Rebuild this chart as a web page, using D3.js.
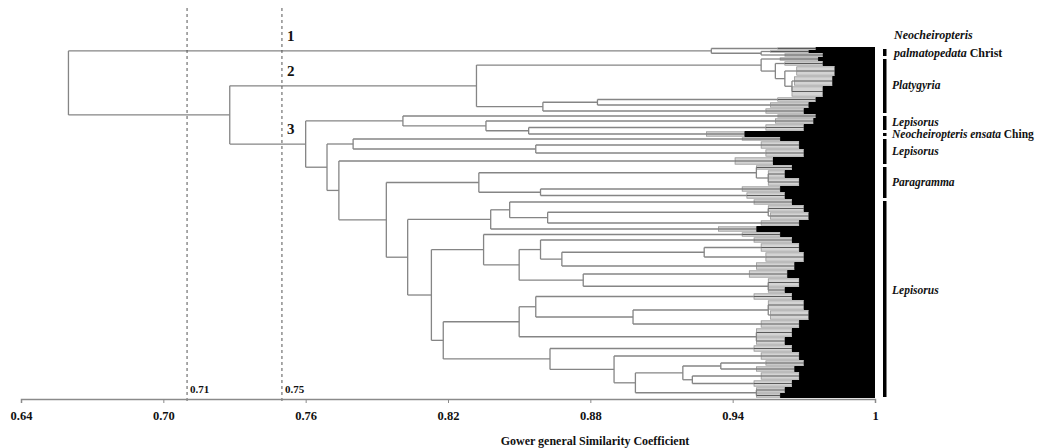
<!DOCTYPE html>
<html>
<head>
<meta charset="utf-8">
<script src="https://cdn.jsdelivr.net/npm/d3@7"></script>
<style>
  body { margin: 0; background: #fff; }
  svg text { font-family: "Liberation Serif", "Times New Roman", serif; font-weight: bold; fill: #111; }
</style>
</head>
<body>
<div id="chart"></div>
<script>
var svgWidth = 1048;
var svgHeight = 448;

// terminal clusters, top to bottom: id, number of OTUs, similarity where the black mass starts
var leafIds = ["a1","a2","a3",
  "b1","b2","b3","b4","b5","b6","b7","b8",
  "c1","c2","c3","c4",
  "d1","d2","d3","d4",
  "e1","e2","e3","e4","e5",
  "f1","f2","f3","f4","f5",
  "g1","g2","g3","g4","g5","g6","g7","g8",
  "h1","h2","h3","h4","h5","h6",
  "i1","i2","i3","i4","i5","i6","i7","i8"];
var leafCount = [3,3,4,
  4,5,10,10,11,5,6,6,
  4,6,7,6,
  4,8,8,8,
  5,8,8,6,7,
  6,7,8,6,6,
  5,6,9,10,8,8,9,6,
  7,10,10,8,9,8,
  7,8,6,6,8,7,6,5];
var leafCore = [0.975,0.972,0.978,
  0.976,0.978,0.983,0.982,0.978,0.975,0.972,0.970,
  0.975,0.974,0.970,0.945,
  0.960,0.968,0.970,0.957,
  0.965,0.962,0.968,0.960,0.962,
  0.965,0.970,0.972,0.968,0.950,
  0.960,0.965,0.968,0.970,0.966,0.963,0.968,0.962,
  0.965,0.970,0.972,0.968,0.965,0.962,
  0.965,0.968,0.970,0.966,0.968,0.965,0.962,0.960];

// merges: node, similarity, child, child
var merges = [
  ["n_a23",0.952,"a2","a3"],
  ["n_c1",0.931,"a1","n_a23"],
  ["n_b45",0.965,"b4","b5"],
  ["n_b345",0.962,"b3","n_b45"],
  ["n_b2",0.958,"b2","n_b345"],
  ["n_bU",0.952,"b1","n_b2"],
  ["n_b67",0.883,"b6","b7"],
  ["n_bL",0.860,"n_b67","b8"],
  ["n_c2",0.832,"n_bU","n_bL"],
  ["n_c34",0.854,"c3","c4"],
  ["n_c234",0.836,"c2","n_c34"],
  ["n_c3U",0.801,"c1","n_c234"],
  ["n_d23",0.857,"d2","d3"],
  ["n_d",0.780,"d1","n_d23"],
  ["n_e23",0.955,"e2","e3"],
  ["n_e123",0.950,"e1","n_e23"],
  ["n_e45",0.859,"e4","e5"],
  ["n_e",0.833,"n_e123","n_e45"],
  ["n_f23",0.955,"f2","f3"],
  ["n_f234",0.862,"n_f23","f4"],
  ["n_f1234",0.846,"f1","n_f234"],
  ["n_f",0.838,"n_f1234","f5"],
  ["n_g34",0.928,"g3","g4"],
  ["n_g345",0.868,"n_g34","g5"],
  ["n_g2345",0.859,"g2","n_g345"],
  ["n_g78",0.955,"g7","g8"],
  ["n_g678",0.877,"g6","n_g78"],
  ["n_gx",0.850,"n_g2345","n_g678"],
  ["n_g",0.835,"g1","n_gx"],
  ["n_h23",0.955,"h2","h3"],
  ["n_h234",0.898,"n_h23","h4"],
  ["n_h1234",0.857,"h1","n_h234"],
  ["n_h56",0.950,"h5","h6"],
  ["n_h",0.850,"n_h1234","n_h56"],
  ["n_i34",0.935,"i3","i4"],
  ["n_i56",0.923,"i5","i6"],
  ["n_i3456",0.919,"n_i34","n_i56"],
  ["n_i78",0.950,"i7","i8"],
  ["n_iB",0.899,"n_i3456","n_i78"],
  ["n_iC",0.890,"i2","n_iB"],
  ["n_i",0.863,"i1","n_iC"],
  ["n443",0.818,"n_h","n_i"],
  ["n432",0.813,"n_g","n443"],
  ["n407",0.803,"n_f","n432"],
  ["n385",0.794,"n_e","n407"],
  ["n338",0.774,"d4","n385"],
  ["n328",0.769,"n_d","n338"],
  ["n305",0.760,"n_c3U","n328"],
  ["nB",0.728,"n_c2","n305"],
  ["root",0.660,"n_c1","nB"]
];

// groups on the right, as first and last leaf
var groupItalic = ["Neocheiropteris|palmatopedata", "Platygyria", "Lepisorus", "Neocheiropteris ensata", "Lepisorus", "Paragramma", "Lepisorus"];
var groupAuthor = [" Christ", "", "", " Ching", "", "", ""];
var groupFirst = ["a1","b1","c1","c4","d1","e1","f1"];
var groupLast  = ["a3","b8","c3","c4","d4","e5","i8"];

// clusters cut by the 0.75 line
var cutLabels = ["1","2","3"];
var cutBranches = ["n_c1","n_c2","n305"];

var cutValues = [0.71, 0.75];
var tickValues = [0.64, 0.70, 0.76, 0.82, 0.88, 0.94, 1];
var tickLabels = ["0.64","0.70","0.76","0.82","0.88","0.94","1"];

var svg = d3.select("#chart").append("svg")
  .attr("width", svgWidth)
  .attr("height", svgHeight);

var x = d3.scaleLinear().domain([0.64, 1]).range([21, 875]);
var total = d3.sum(leafCount);
var y = d3.scaleLinear().domain([0, total]).range([47, 398]);

// build node table
var nodes = {};
var cum = 0;
leafIds.forEach(function(id, i) {
  nodes[id] = {id: id, leaf: true, h: leafCore[i], y0: y(cum), y1: y(cum + leafCount[i]), y: y(cum + leafCount[i] / 2)};
  cum += leafCount[i];
});
merges.forEach(function(m) {
  var a = nodes[m[2]], b = nodes[m[3]];
  nodes[m[0]] = {id: m[0], leaf: false, h: m[1], kids: [a, b], y: (a.y + b.y) / 2};
  a.parent = nodes[m[0]];
  b.parent = nodes[m[0]];
});

var lineColor = "#858585";
var tree = svg.append("g");

// leaves: stem, grey fan, black block
leafIds.forEach(function(id) {
  var d = nodes[id];
  var fanStart = Math.max(d.parent.h, d.h - 0.016);
  tree.append("rect")
    .attr("x", x(fanStart))
    .attr("y", d.y0 + 0.8)
    .attr("width", x(d.h) - x(fanStart))
    .attr("height", Math.max(d.y1 - d.y0 - 1.6, 0.5))
    .attr("fill", "#d4d4d4")
    .attr("stroke", "#8c8c8c")
    .attr("stroke-width", 0.7);
  tree.append("line")
    .attr("x1", x(fanStart)).attr("x2", x(d.h))
    .attr("y1", d.y).attr("y2", d.y)
    .attr("stroke", "#5a5a5a").attr("stroke-width", 1);
  tree.append("rect")
    .attr("x", x(d.h))
    .attr("y", d.y0)
    .attr("width", x(1) - x(d.h))
    .attr("height", d.y1 - d.y0)
    .attr("fill", "#000");
});

// internal nodes: vertical join plus horizontal stems to each child
merges.forEach(function(m) {
  var d = nodes[m[0]];
  tree.append("line")
    .attr("x1", x(d.h)).attr("x2", x(d.h))
    .attr("y1", d.kids[0].y).attr("y2", d.kids[1].y)
    .attr("stroke", lineColor).attr("stroke-width", 1.3);
  d.kids.forEach(function(k) {
    var end = k.leaf ? Math.max(d.h, k.h - 0.016) : k.h;
    tree.append("line")
      .attr("x1", x(d.h)).attr("x2", x(end))
      .attr("y1", k.y).attr("y2", k.y)
      .attr("stroke", lineColor).attr("stroke-width", 1.3);
  });
});

// cut lines
cutValues.forEach(function(v) {
  svg.append("line")
    .attr("x1", x(v)).attr("x2", x(v))
    .attr("y1", 8).attr("y2", 401)
    .attr("stroke", "#555").attr("stroke-width", 1)
    .attr("stroke-dasharray", "3,3");
  svg.append("text")
    .attr("x", x(v) + 3).attr("y", 393)
    .attr("font-size", "11px")
    .text(v.toFixed(2));
});

cutLabels.forEach(function(t, i) {
  svg.append("text")
    .attr("x", x(0.75) + 5)
    .attr("y", nodes[cutBranches[i]].y - 10)
    .attr("font-size", "15px")
    .text(t);
});

// axis
var bottomAxis = d3.axisBottom(x)
  .tickValues(tickValues)
  .tickFormat(function(d, i) { return tickLabels[i]; })
  .tickSize(4)
  .tickPadding(8);
var xAxis = svg.append("g")
  .attr("transform", "translate(0,399)")
  .call(bottomAxis);
xAxis.select(".domain").attr("stroke", "#8a8a8a").attr("stroke-width", 1.5);
xAxis.selectAll(".tick line").attr("stroke", "#8a8a8a");
xAxis.selectAll(".tick text")
  .attr("font-size", "12.5px")
  .attr("font-family", "Liberation Serif, serif")
  .attr("font-weight", "bold")
  .attr("fill", "#111");

svg.append("text")
  .attr("x", 595).attr("y", 445)
  .attr("text-anchor", "middle")
  .attr("font-size", "12px")
  .text("Gower general Similarity Coefficient");

// group bars and names
groupFirst.forEach(function(f, i) {
  var top = nodes[f].y0 + 2;
  var bot = nodes[groupLast[i]].y1 - 1;
  svg.append("rect")
    .attr("x", 883).attr("y", top)
    .attr("width", 3.5).attr("height", bot - top)
    .attr("fill", "#000");
  var mid = (top + bot) / 2;
  if (bot - top > 100) mid -= 8;
  var parts = groupItalic[i].split("|");
  if (parts.length > 1) {
    svg.append("text").attr("x", 894).attr("y", mid - 14)
      .attr("font-size", "12px").attr("font-style", "italic").text(parts[0]);
    var t = svg.append("text").attr("x", 894).attr("y", mid + 4).attr("font-size", "12px");
    t.append("tspan").attr("font-style", "italic").text(parts[1]);
    t.append("tspan").text(groupAuthor[i]);
  } else {
    var t2 = svg.append("text").attr("x", 892).attr("y", mid + 3).attr("font-size", "11.5px");
    t2.append("tspan").attr("font-style", "italic").text(parts[0]);
    t2.append("tspan").text(groupAuthor[i]);
  }
});
</script>
</body>
</html>
